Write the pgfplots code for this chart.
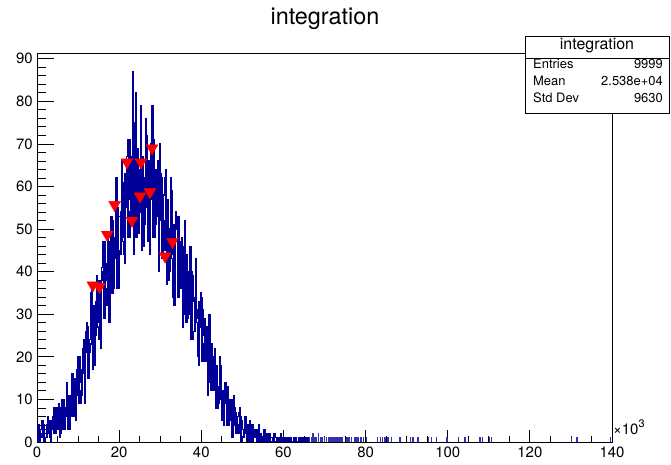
\documentclass[border=0pt]{standalone}
\usepackage{fontspec}
\setmainfont{TeX Gyre Heros}
\usepackage{pgfplots}
\pgfplotsset{compat=1.18}
\definecolor{rootblue}{RGB}{0,0,153}
\begin{document}
\begin{tikzpicture}[x=1bp,y=1bp]
\useasboundingbox (-37,-23) rectangle (634,442);
\begin{axis}[
  at={(0,0)}, anchor=south west,
  width=575bp, height=389bp, scale only axis,
  xmin=0, xmax=140, ymin=0, ymax=91.35,
  axis line style={black, line width=0.8bp},
  xtick={0,20,...,140}, minor x tick num=3,
  ytick={0,10,...,90}, minor y tick num=4,
  tick align=inside, xtick pos=left, ytick pos=left,
  major tick length=17bp, minor tick length=9bp,
  xtick style={/pgfplots/major tick length=12bp, /pgfplots/minor tick length=6bp},
  tick style={black, line width=0.8bp},
  /pgf/number format/assume math mode=true,
  ticklabel style={font=\fontsize{15}{18}\selectfont},
  xticklabel style={inner sep=0pt, yshift=-5bp},
  yticklabel style={inner sep=0pt, xshift=-4bp},
  clip=true,
]
\addplot[const plot, rootblue, line width=1.2bp, no marks] coordinates {
(0,4)(0.25,0)(0.5,3)(0.75,2)
(1,1)(1.25,5)(1.5,0)(1.75,3)
(2,3)(2.25,1)(2.5,6)(2.75,2)
(3,1)(3.25,5)(3.5,3)(3.75,6)
(4,8)(4.25,3)(4.5,2)(4.75,6)
(5,5)(5.25,9)(5.5,1)(5.75,8)
(6,10)(6.25,3)(6.5,8)(6.75,6)
(7,6)(7.25,14)(7.5,3)(7.75,10)
(8,11)(8.25,6)(8.5,16)(8.75,8)
(9,6)(9.25,15)(9.5,11)(9.75,17)
(10,20)(10.25,12)(10.5,9)(10.75,17)
(11,16)(11.25,24)(11.5,9)(11.75,22)
(12,28)(12.25,15)(12.5,24)(12.75,21)
(13,23)(13.25,36)(13.5,17)(13.75,30)
(14,32)(14.25,25)(14.5,39)(14.75,27)
(15,24)(15.25,38)(15.5,32)(15.75,41)
(16,47)(16.25,34)(16.5,29)(16.75,42)
(17,38)(17.25,49)(17.5,28)(17.75,47)
(18,53)(18.25,35)(18.5,48)(18.75,43)
(19,43)(19.25,62)(19.5,36)(19.75,53)
(20,53)(20.25,44)(20.5,66)(20.75,47)
(21,44)(21.25,63)(21.5,55)(21.75,67)
(22,71)(22.25,54)(22.5,48)(22.75,64)
(23,57)(23.25,87)(23.5,44)(23.75,68)
(24,82)(24.25,48)(24.5,63)(24.75,58)
(25,54)(25.25,79)(25.5,45)(25.75,65)
(26,62)(26.25,51)(26.5,76)(26.75,55)
(27,47)(27.25,66)(27.5,57)(27.75,70)
(28,79)(28.25,54)(28.5,48)(28.75,64)
(29,53)(29.25,66)(29.5,40)(29.75,63)
(30,63)(30.25,43)(30.5,57)(30.75,52)
(31,45)(31.25,64)(31.5,37)(31.75,55)
(32,49)(32.25,40)(32.5,62)(32.75,43)
(33,34)(33.25,51)(33.5,44)(33.75,54)
(34,53)(34.25,39)(34.5,34)(34.75,47)
(35,37)(35.25,48)(35.5,27)(35.75,46)
(36,44)(36.25,28)(36.5,39)(36.75,35)
(37,30)(37.25,46)(37.5,24)(37.75,39)
(38,33)(38.25,26)(38.5,43)(38.75,28)
(39,20)(39.25,33)(39.5,27)(39.75,35)
(40,34)(40.25,23)(40.5,19)(40.75,29)
(41,19)(41.25,27)(41.5,11)(41.75,26)
(42,23)(42.25,12)(42.5,20)(42.75,17)
(43,12)(43.25,22)(43.5,8)(43.75,17)
(44,13)(44.25,9)(44.5,20)(44.75,10)
(45,5)(45.25,12)(45.5,9)(45.75,14)
(46,13)(46.25,7)(46.5,4)(46.75,10)
(47,5)(47.25,10)(47.5,1)(47.75,9)
(48,8)(48.25,2)(48.5,6)(48.75,4)
(49,2)(49.25,8)(49.5,0)(49.75,5)
(50,3)(50.25,1)(50.5,6)(50.75,2)
(51,0)(51.25,4)(51.5,2)(51.75,5)
(52,4)(52.25,1)(52.5,0)(52.75,3)
(53,1)(53.25,3)(53.5,0)(53.75,3)
(54,3)(54.25,0)(54.5,2)(54.75,1)
(55,0)(55.25,3)(55.5,0)(55.75,2)
(56,1)(56.25,0)(56.5,2)(56.75,0)
(57,0)(57.25,1)(57.5,0)(57.75,2)
(58,1)(58.25,0)(58.5,0)(58.75,1)
(59,0)(59.25,2)(59.5,0)(59.75,1)
(60,1)(60.25,0)(60.5,0)(60.75,0)
(61,0)(61.25,1)(61.5,0)(61.75,1)
(62,0)(62.25,0)(62.5,1)(62.75,0)
(63,1)(63.25,0)(63.5,0)(63.75,1)
(64,0)(64.25,1)(64.5,0)(64.75,0)
(65,0)(65.25,0)(65.5,1)(65.75,1)
(66,0)
};
\addplot[const plot, rootblue, line width=1.2bp, no marks] coordinates {
(0.125,2)(0.375,4)(0.625,0)(0.875,3)
(1.125,5)(1.375,1)(1.625,4)(1.875,0)
(2.125,1)(2.375,4)(2.625,6)(2.875,2)
(3.125,5)(3.375,0)(3.625,5)(3.875,6)
(4.125,2)(4.375,8)(4.625,4)(4.875,3)
(5.125,8)(5.375,5)(5.625,2)(5.875,10)
(6.125,6)(6.375,10)(6.625,3)(6.875,8)
(7.125,13)(7.375,6)(7.625,11)(7.875,3)
(8.125,7)(8.375,11)(8.625,15)(8.875,8)
(9.125,14)(9.375,5)(9.625,15)(9.875,16)
(10.125,9)(10.375,20)(10.625,14)(10.875,11)
(11.125,22)(11.375,16)(11.625,11)(11.875,26)
(12.125,21)(12.375,27)(12.625,15)(12.875,24)
(13.125,35)(13.375,23)(13.625,32)(13.875,18)
(14.125,25)(14.375,33)(14.625,38)(14.875,28)
(15.125,36)(15.375,22)(15.625,38)(15.875,40)
(16.125,29)(16.375,47)(16.625,36)(16.875,32)
(17.125,47)(17.375,38)(17.625,31)(17.875,53)
(18.125,43)(18.375,52)(18.625,36)(18.875,48)
(19.125,60)(19.375,44)(19.625,55)(19.875,36)
(20.125,45)(20.375,54)(20.625,64)(20.875,48)
(21.125,61)(21.375,42)(21.625,62)(21.875,65)
(22.125,48)(22.375,71)(22.625,57)(22.875,51)
(23.125,67)(23.375,57)(23.625,48)(23.875,75)
(24.125,58)(24.375,69)(24.625,49)(24.875,64)
(25.125,72)(25.375,55)(25.625,67)(25.875,46)
(26.125,52)(26.375,62)(26.625,72)(26.875,55)
(27.125,64)(27.375,44)(27.625,65)(27.875,68)
(28.125,48)(28.375,71)(28.625,57)(28.875,51)
(29.125,63)(29.375,53)(29.625,44)(29.875,70)
(30.125,52)(30.375,62)(30.625,44)(30.875,58)
(31.125,62)(31.375,46)(31.625,57)(31.875,38)
(32.125,41)(32.375,50)(32.625,59)(32.875,44)
(33.125,49)(33.375,32)(33.625,50)(33.875,53)
(34.125,34)(34.375,53)(34.625,41)(34.875,36)
(35.125,46)(35.375,38)(35.625,30)(35.875,52)
(36.125,35)(36.375,44)(36.625,29)(36.875,40)
(37.125,44)(37.375,31)(37.625,40)(37.875,24)
(38.125,26)(38.375,34)(38.625,41)(38.875,29)
(39.125,31)(39.375,18)(39.625,32)(39.875,34)
(40.125,19)(40.375,31)(40.625,25)(40.875,21)
(41.125,25)(41.375,19)(41.625,14)(41.875,30)
(42.125,17)(42.375,23)(42.625,12)(42.875,20)
(43.125,21)(43.375,12)(43.625,18)(43.875,8)
(44.125,9)(44.375,14)(44.625,18)(44.875,10)
(45.125,11)(45.375,4)(45.625,12)(45.875,13)
(46.125,4)(46.375,13)(46.625,8)(46.875,6)
(47.125,9)(47.375,5)(47.625,2)(47.875,11)
(48.125,4)(48.375,7)(48.625,2)(48.875,6)
(49.125,7)(49.375,3)(49.625,6)(49.875,0)
(50.125,1)(50.375,3)(50.625,6)(50.875,2)
(51.125,3)(51.375,0)(51.625,4)(51.875,4)
(52.125,0)(52.375,4)(52.625,2)(52.875,1)
(53.125,3)(53.375,1)(53.625,0)(53.875,4)
(54.125,1)(54.375,2)(54.625,0)(54.875,1)
(55.125,2)(55.375,0)(55.625,1)(55.875,0)
(56.125,0)(56.375,1)(56.625,0)(56.875,1)
(57.125,1)(57.375,0)(57.625,2)(57.875,0)
(58.125,0)(58.375,1)(58.625,0)(58.875,0)
(59.125,1)(59.375,0)(59.625,1)(59.875,0)
(60.125,0)(60.375,0)(60.625,1)(60.875,0)
(61.125,1)(61.375,0)(61.625,0)(61.875,0)
(62.125,0)(62.375,1)(62.625,0)(62.875,1)
(63.125,0)(63.375,0)(63.625,1)(63.875,0)
(64.125,1)(64.375,0)(64.625,0)(64.875,1)
(65.125,0)(65.375,1)(65.625,0)(65.875,0)
(66.125,0)
};
\addplot[const plot, rootblue!80, line width=0.9bp, no marks] coordinates {
(66.2,1)(66.34,0)(66.7,1)(66.84,0)(67.1,2)(67.24,0)(67.6,1)(67.74,0)(68.0,1)(68.14,0)(68.5,2)(68.64,0)(69.0,1)(69.14,0)(69.3,1)(69.44,0)(69.9,1)(70.04,0)(70.4,1)(70.54,0)(71.0,1)(71.14,0)(71.3,1)(71.44,0)(71.7,1)(71.84,0)(72.2,1)(72.34,0)(72.6,1)(72.74,0)(73.0,1)(73.14,0)(73.5,1)(73.64,0)(73.9,1)(74.04,0)(74.3,1)(74.44,0)(75.4,1)(75.54,0)(75.9,1)(76.04,0)(76.5,1)(76.64,0)(77.2,1)(77.34,0)(77.6,1)(77.74,0)(78.1,1)(78.24,0)(78.8,1)(78.94,0)(79.4,1)(79.54,0)(80.1,1)(80.24,0)(82.8,1)(82.94,0)(83.5,1)(83.64,0)(84.0,1)(84.14,0)(84.6,1)(84.74,0)(85.4,1)(85.54,0)(86.2,1)(86.34,0)(88.3,1)(88.44,0)(90.9,1)(91.04,0)(91.5,1)(91.64,0)(92.7,1)(92.84,0)(95.2,1)(95.34,0)(96.0,1)(96.14,0)(97.2,1)(97.34,0)(99.7,1)(99.84,0)(102.5,1)(102.64,0)(104.1,1)(104.24,0)(107.8,1)(107.94,0)(108.4,1)(108.54,0)(110.1,1)(110.24,0)(110.6,1)(110.74,0)(130.1,1)(130.24,0)(131.4,1)(131.54,0)(139.5,1)(139.64,0)
};
\addplot[only marks, red, mark=triangle*, mark size=6.8bp, mark options={rotate=180, fill=red, draw=red}] coordinates {
(13.6,36.8)(15.2,36.4)(17.1,48.7)(18.9,55.7)(21.9,65.7)(23.1,52.0)(25.3,65.7)(25.1,57.7)(27.5,58.7)(28.0,69.0)(31.2,43.6)(33.0,47.0)
};
\end{axis}
\node[anchor=base] at (288,417) {\fontsize{23.5}{28}\selectfont integration};
\node[anchor=base west, inner sep=0pt] at (576,7) {\fontsize{15}{17}\selectfont ×10\raisebox{0.5em}{\fontsize{11}{12}\selectfont 3}};
\draw[fill=white, line width=0.8bp] (488,329) rectangle (632,406);
\draw[line width=0.8bp] (488,384) -- (632,384);
\node[anchor=base, inner sep=0pt] at (560,392) {\fontsize{16}{18}\selectfont integration};
\begin{scope}[every node/.style={inner sep=0pt}, font=\fontsize{13}{15}\selectfont]
\node[anchor=base west] at (496,373) {Entries};
\node[anchor=base east] at (626,373) {9999};
\node[anchor=base west] at (496,356) {Mean};
\node[anchor=base east] at (626,356) {2.538e+04};
\node[anchor=base west] at (496,339) {Std Dev};
\node[anchor=base east] at (626,339) {9630};
\end{scope}
\end{tikzpicture}
\end{document}
